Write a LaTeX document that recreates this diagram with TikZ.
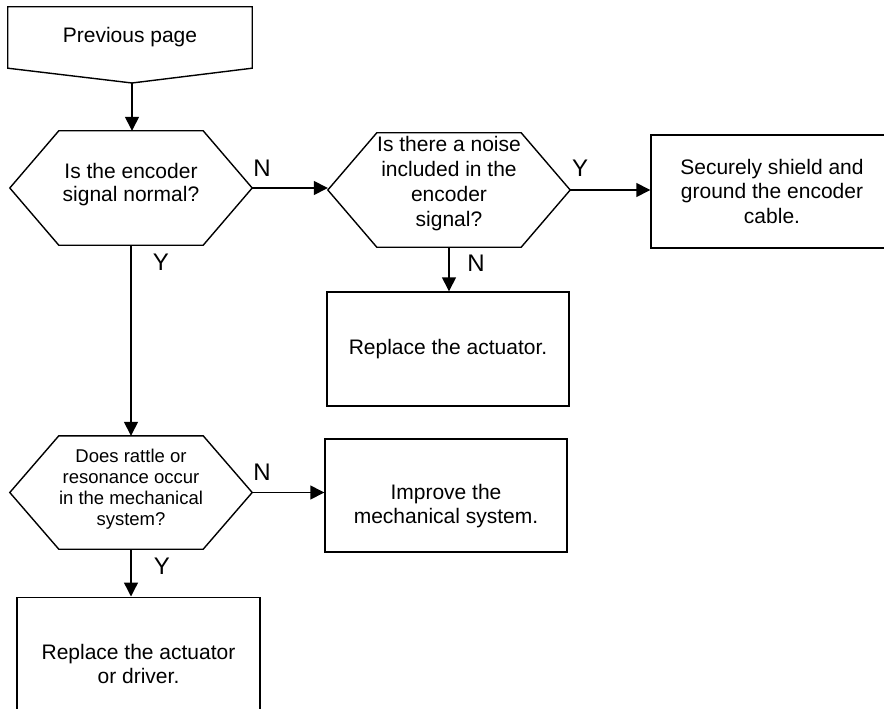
\documentclass[tikz,border=0pt]{standalone}
\usepackage{fontspec}
\setmainfont{Liberation Sans}
\usetikzlibrary{arrows.meta}
\tikzset{
  line/.style={draw=black, line width=1.4bp},
  conn/.style={line, -{Triangle[length=14bp,width=14bp]}},
  boxnode/.style={line, rectangle, align=center, inner sep=0pt, font=\fontsize{21bp}{24.5bp}\selectfont},
  hexnode/.style={rectangle, align=center, inner sep=0pt, font=\fontsize{21bp}{25bp}\selectfont},
  lbl/.style={inner sep=0pt, font=\fontsize{24bp}{26bp}\selectfont},
}
\newcommand\hexdraw[1]{\draw[line] (#1.west) -- ([xshift=49bp]#1.north west) -- ([xshift=-49bp]#1.north east) -- (#1.east) -- ([xshift=-49bp]#1.south east) -- ([xshift=49bp]#1.south west) -- cycle;}
\begin{document}
\begin{tikzpicture}[x=1bp,y=-1bp]
\useasboundingbox (0,0) rectangle (884,709);
% off-page connector
\node[hexnode, minimum width=244bp, minimum height=61bp] (prev) at (130,37.5) {};
\node[hexnode] at (130,37) {Previous page};
\coordinate (ptip) at (132,83);
\draw[line] (prev.north west) -- (prev.north east) -- (prev.south east) -- (ptip) -- (prev.south west) -- cycle;
% decisions
\node[hexnode, minimum width=242bp, minimum height=114bp] (h1) at (131,188) {};
\node[hexnode, font=\fontsize{21bp}{23.3bp}\selectfont] at (131,184.5) {Is the encoder\\signal normal?};
\hexdraw{h1}
\node[hexnode, minimum width=242bp, minimum height=114bp] (h2) at (449,190) {};
\node[hexnode] at (449,184) {Is there a noise\\included in the\\encoder\\signal?};
\hexdraw{h2}
\node[hexnode, minimum width=242bp, minimum height=113bp] (h3) at (131,492.5) {};
\node[hexnode, font=\fontsize{18.5bp}{21bp}\selectfont] at (131,489.5) {Does rattle or\\resonance occur\\in the mechanical\\system?};
\hexdraw{h3}
% process boxes
\node[boxnode, minimum width=242bp, minimum height=113bp] (sh) at (772,191.5) {};
\node[boxnode, draw=none] at (772,191) {Securely shield and\\ground the encoder\\cable.};
\node[boxnode, minimum width=242bp, minimum height=114bp] (r1) at (448,349) {};
\node[boxnode, draw=none] at (448,349) {Replace the actuator.};
\node[boxnode, minimum width=242bp, minimum height=113bp] (imp) at (446,495.5) {};
\node[boxnode, draw=none] at (446,506) {Improve the\\mechanical system.};
\node[boxnode, minimum width=243bp, minimum height=114bp, anchor=north] (r2) at (138.5,596.5) {};
\node[boxnode, draw=none] at (138.5,664) {Replace the actuator\\or driver.};
% connectors
\draw[conn] (ptip) -- (ptip |- h1.north);
\draw[conn] (h1.east) -- (h1.east -| h2.west);
\draw[conn] (h2.east) -- (h2.east -| sh.west);
\draw[conn] (h2.south) -- (h2.south |- r1.north);
\draw[conn] (h1.south) -- (h1.south |- h3.north);
\draw[conn] (h3.east) -- (h3.east -| imp.west);
\draw[conn] (h3.south) -- (h3.south |- r2.north);
% labels
\node[lbl] (n1) at (262,168) {N};
\node[lbl] (y1) at (580,168) {Y};
\node[lbl] (n2) at (476,263) {N};
\node[lbl] (y2) at (161,262) {Y};
\node[lbl] (n3) at (262,472) {N};
\node[lbl] (y3) at (162,566) {Y};
\end{tikzpicture}
\end{document}
